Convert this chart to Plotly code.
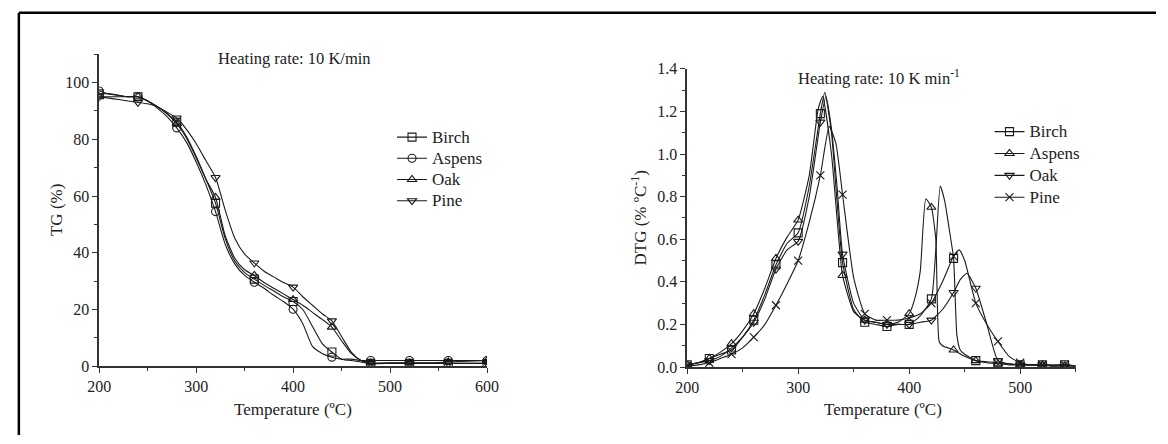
import plotly.graph_objects as go

W, H = 1168, 444
FONT = "Liberation Serif"

# ---------------- TG data (left) ----------------
tg_temp = [200, 210, 220, 230, 240, 250, 260, 270, 280, 290, 300, 310, 320, 330, 340, 350,
           360, 370, 380, 390, 400, 410, 420, 430, 440, 450, 460, 470, 480, 500, 520, 540,
           560, 580, 600]
tg_birch = [96, 96, 95.5, 95, 95, 93.5, 91.5, 89, 86, 81, 74, 66, 57.5, 45, 37, 33,
            30.7, 28.5, 26.5, 24.5, 22.8, 20, 14, 8, 5, 2.5, 2, 1.5, 1, 1, 1, 1, 1, 1, 1]
tg_aspens = [97, 96, 95.5, 95, 95, 93.5, 91, 88, 84, 79, 72, 64, 54.5, 43, 36, 32,
             29.6, 27.5, 25, 22.8, 20.1, 15, 7, 4.5, 3.2, 2.5, 2.5, 2, 2, 2, 2, 2, 2, 2, 2]
tg_oak = [95, 95, 95, 95, 95, 93.5, 91.5, 89, 85.5, 80.5, 73.5, 66, 59.5, 46, 38, 34,
          32, 29.5, 27.5, 25.5, 23.5, 21.5, 19, 16.5, 13.8, 9, 4.5, 2, 1.2, 1.2, 1.2, 1.2,
          1.5, 1.8, 2]
tg_pine = [95, 94.5, 94, 93.5, 93, 92.5, 91.5, 89.5, 87.5, 83.5, 78.5, 72.5, 66.5, 55, 45, 39.5,
           36.4, 33.5, 31.5, 29.5, 27.9, 24.5, 21.5, 18.5, 16, 10.5, 5, 2, 1, 1, 1, 1, 1, 1, 1]

# ---------------- DTG data (right) ----------------
dtg_temp_birch = [200, 210, 220, 230, 240, 250, 260, 270, 280, 290, 300, 310, 320, 324, 330, 335,
                  340, 350, 360, 370, 380, 390, 400, 410, 420, 424, 428, 432, 436, 440, 443, 446,
                  450, 460, 470, 480, 490, 500, 510, 520, 530, 540, 550]
dtg_birch = [0.01, 0.02, 0.04, 0.06, 0.08, 0.14, 0.22, 0.34, 0.48, 0.58, 0.63, 0.85, 1.19, 1.29,
             1.1, 0.78, 0.49, 0.27, 0.21, 0.2, 0.19, 0.2, 0.2, 0.24, 0.32, 0.55, 0.85, 0.78,
             0.65, 0.51, 0.15, 0.08, 0.06, 0.03, 0.025, 0.02, 0.015, 0.01, 0.01, 0.01, 0.005,
             0.01, 0.005]

dtg_temp_aspens = [200, 210, 220, 230, 240, 250, 260, 270, 280, 290, 300, 310, 318, 322, 330, 335,
                   340, 350, 360, 370, 380, 390, 400, 405, 410, 415, 420, 424, 427, 430, 440,
                   450, 460, 470, 480, 490, 500, 510, 520, 530, 540, 550]
dtg_aspens = [0.01, 0.02, 0.04, 0.07, 0.11, 0.17, 0.25, 0.37, 0.51, 0.61, 0.69, 0.9, 1.21, 1.27,
              1.0, 0.7, 0.43, 0.26, 0.22, 0.21, 0.2, 0.21, 0.25, 0.32, 0.45, 0.79, 0.75, 0.6,
              0.12, 0.1, 0.08, 0.05, 0.03, 0.02, 0.015, 0.01, 0.01, 0.01, 0.01, 0.005, 0.005,
              0.005]

dtg_temp_oak = [200, 210, 220, 230, 240, 250, 260, 270, 280, 290, 300, 310, 320, 325, 330, 335,
                340, 350, 360, 370, 380, 390, 400, 410, 420, 430, 440, 446, 452, 460, 470, 480,
                490, 500, 510, 520, 530, 540, 550]
dtg_oak = [0.01, 0.02, 0.03, 0.05, 0.09, 0.14, 0.21, 0.32, 0.46, 0.55, 0.59, 0.8, 1.15, 1.27,
           1.12, 0.85, 0.53, 0.3, 0.22, 0.21, 0.2, 0.2, 0.2, 0.21, 0.22, 0.27, 0.35, 0.41, 0.44,
           0.37, 0.2, 0.03, 0.015, 0.01, 0.01, 0.01, 0.005, 0.005, 0.005]

dtg_temp_pine = [200, 210, 220, 230, 240, 250, 260, 270, 280, 290, 300, 310, 320, 328, 334,
                 340, 350, 360, 370, 380, 390, 400, 410, 420, 430, 440, 445, 450, 460, 470, 480,
                 490, 500, 510, 520, 530, 540, 550]
dtg_pine = [0.005, 0.01, 0.02, 0.04, 0.06, 0.09, 0.14, 0.2, 0.29, 0.39, 0.5, 0.68, 0.9, 1.13,
            1.05, 0.81, 0.42, 0.25, 0.22, 0.22, 0.22, 0.23, 0.25, 0.3, 0.4, 0.52, 0.55, 0.5,
            0.3, 0.2, 0.12, 0.05, 0.02, 0.01, 0.01, 0.01, 0.01, 0.005]

names = ["Birch", "Aspens", "Oak", "Pine"]
tg_series = [tg_birch, tg_aspens, tg_oak, tg_pine]
tg_symbols = ["square-open", "circle-open", "triangle-up-open", "triangle-down-open"]
dtg_x = [dtg_temp_birch, dtg_temp_aspens, dtg_temp_oak, dtg_temp_pine]
dtg_series = [dtg_birch, dtg_aspens, dtg_oak, dtg_pine]
dtg_symbols = ["square-open", "triangle-up-open", "triangle-down-open", "x-thin-open"]

fig = go.Figure()
LINE = dict(color="#1a1a1a", width=1.1)

def marker_style(sym, size):
    return dict(symbol=sym, size=size, color="#1a1a1a",
                line=dict(color="#1a1a1a", width=1.1))

def legend_name(nm):
    return "<span style='font-size:17px'>" + nm + "</span>"

# Left: TG curves, markers every 40 °C
for nm, ys, sym in zip(names, tg_series, tg_symbols):
    fig.add_trace(go.Scatter(x=tg_temp, y=ys, mode="lines", line=dict(LINE, shape="spline", smoothing=0.6),
                             xaxis="x", yaxis="y", showlegend=False, hoverinfo="skip"))
    mx = [t for t in tg_temp if t % 40 == 0]
    my = [v for t, v in zip(tg_temp, ys) if t % 40 == 0]
    fig.add_trace(go.Scatter(x=mx, y=my, mode="markers", marker=marker_style(sym, 8),
                             xaxis="x", yaxis="y", showlegend=False))
    fig.add_trace(go.Scatter(x=[None], y=[None], mode="lines+markers", name=legend_name(nm),
                             line=LINE, marker=marker_style(sym, 8),
                             xaxis="x", yaxis="y", legend="legend"))

# Right: DTG curves, markers every 20 °C
for nm, xs, ys, sym in zip(names, dtg_x, dtg_series, dtg_symbols):
    fig.add_trace(go.Scatter(x=xs, y=ys, mode="lines", line=dict(LINE, shape="spline", smoothing=0.5),
                             xaxis="x2", yaxis="y2", showlegend=False, hoverinfo="skip"))
    mx = [t for t in xs if t % 20 == 0 and t <= 540]
    my = [v for t, v in zip(xs, ys) if t % 20 == 0 and t <= 540]
    fig.add_trace(go.Scatter(x=mx, y=my, mode="markers", marker=marker_style(sym, 8),
                             xaxis="x2", yaxis="y2", showlegend=False))
    fig.add_trace(go.Scatter(x=[None], y=[None], mode="lines+markers", name=legend_name(nm),
                             line=LINE, marker=marker_style(sym, 8),
                             xaxis="x2", yaxis="y2", legend="legend2"))

def px_x(p):
    return p / W

def px_y(p):
    return (H - p) / H

axis_common = dict(showline=True, linecolor="#333", linewidth=1.5, ticks="outside",
                   ticklen=5, tickwidth=1.2, tickcolor="#333", showgrid=False, zeroline=False,
                   tickfont=dict(family=FONT, size=16, color="#222"), mirror=False)

def label(text, x, y, size=17, angle=0):
    return dict(text=text, x=px_x(x), y=px_y(y), xref="paper", yref="paper",
                xanchor="center", yanchor="middle", textangle=angle, showarrow=False,
                font=dict(family=FONT, size=size, color="#222"))

fig.update_layout(
    width=W, height=H, margin=dict(l=0, r=0, t=0, b=0), autosize=False,
    paper_bgcolor="white", plot_bgcolor="white",
    xaxis=dict(axis_common, domain=[px_x(89), px_x(485)], range=[200, 600], dtick=100,
               minor=dict(ticks="outside", ticklen=3, dtick=50, tickcolor="#333"),
               anchor="y"),
    yaxis=dict(axis_common, domain=[px_y(372.5), px_y(48)], range=[0, 110],
               tickvals=[0, 20, 40, 60, 80, 100],
               minor=dict(ticks="outside", ticklen=3, dtick=10, tickcolor="#333"),
               anchor="x"),
    xaxis2=dict(axis_common, domain=[px_x(689.3), px_x(1086)], range=[200, 550],
                tickvals=[200, 300, 400, 500],
                minor=dict(ticks="outside", ticklen=3, dtick=50, tickcolor="#333"),
                anchor="y2"),
    yaxis2=dict(axis_common, domain=[px_y(373.3), px_y(63.3)], range=[0, 1.4], dtick=0.2,
                tickformat=".1f",
                minor=dict(ticks="outside", ticklen=3, dtick=0.1, tickcolor="#333"),
                anchor="x2"),
    legend=dict(x=px_x(388), y=px_y(118), xanchor="left", yanchor="top",
                font=dict(family=FONT, size=14, color="#222"), bgcolor="rgba(0,0,0,0)",
                tracegroupgap=0, itemwidth=30),
    legend2=dict(x=px_x(998), y=px_y(112), xanchor="left", yanchor="top",
                 font=dict(family=FONT, size=14.5, color="#222"), bgcolor="rgba(0,0,0,0)",
                 tracegroupgap=0, itemwidth=30),
    annotations=[
        label("Heating rate: 10 K/min", 288, 53, 16.5),
        label("Heating rate: 10 K min<sup>-1</sup>", 885, 72, 16.5),
        label("TG (%)", 46, 210, 17, -90),
        label("DTG (% ºC<sup>-1</sup>)", 640, 218, 17, -90),
        label("Temperature (ºC)", 287, 417, 17),
        label("Temperature (ºC)", 889, 417, 17),
    ],
    shapes=[
        dict(type="line", xref="paper", yref="paper", x0=px_x(7), x1=px_x(7), y0=0, y1=px_y(5),
             line=dict(color="black", width=2.5)),
        dict(type="line", xref="paper", yref="paper", x0=px_x(7), x1=1, y0=px_y(5), y1=px_y(5),
             line=dict(color="black", width=2.5)),
    ],
)

fig.write_html("out.html", config={"responsive": False},
               post_script="document.body.style.margin='0px';document.body.style.padding='0px';"
                           "document.body.style.overflow='hidden';")
